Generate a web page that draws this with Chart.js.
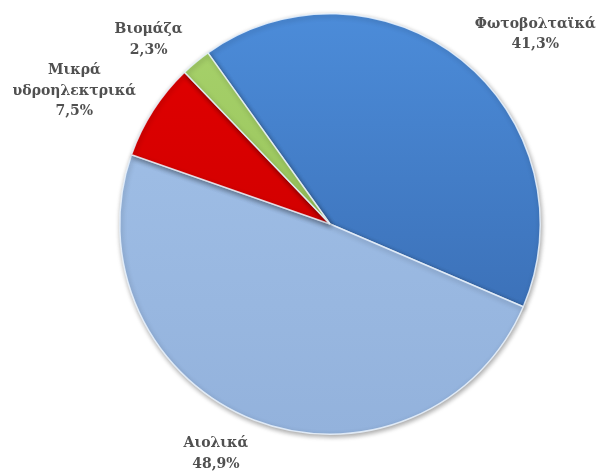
<!DOCTYPE html>
<html lang="el">
<head>
<meta charset="utf-8">
<script src="https://cdn.jsdelivr.net/npm/chart.js@4.4.1/dist/chart.umd.min.js"></script>
<style>
  html, body { margin: 0; padding: 0; background: #fff; }
  #wrap { width: 601px; height: 473px; }
</style>
</head>
<body>
<div id="wrap"><canvas id="pie" width="601" height="473"></canvas></div>
<script>
// ── Data ───────────────────────────────────────────────────────────────────
const CATEGORIES = ['Φωτοβολταϊκά', 'Αιολικά', 'Μικρά υδροηλεκτρικά', 'Βιομάζα'];
const SHARES     = [41.3, 48.9, 7.5, 2.3];

// ── Style ──────────────────────────────────────────────────────────────────
const GRADS = [
  ['#4c8cd9', '#3566ab'],
  ['#a3c2e9', '#93b2dc'],
  ['#e30000', '#c20000'],
  ['#a8d26c', '#8cba4e'],
];
// label placement relative to the slice: angular shift (deg) and radius factor
const LABEL_LAYOUT = [
  { shift: 8.4,  dist: 1.33 },
  { shift: 5.2,  dist: 1.22 },
  { shift: -5.3, dist: 1.37 },
  { shift: -4.9, dist: 1.23 },
];
const LABEL_FONT  = 'bold 14px "DejaVu Serif"';
const LABEL_COLOR = '#505050';
const LINE_H      = 20.5;

function fmt(v) { return v.toFixed(1).replace('.', ',') + '%'; }

function sliceFill(ctx) {
  const chart = ctx.chart;
  const area = chart.chartArea;
  if (!area) return GRADS[ctx.dataIndex][0];
  const g = chart.ctx.createLinearGradient(0, area.top, 0, area.bottom);
  g.addColorStop(0, GRADS[ctx.dataIndex][0]);
  g.addColorStop(1, GRADS[ctx.dataIndex][1]);
  return g;
}

const shadowPlugin = {
  id: 'shadow',
  beforeDatasetsDraw(chart) {
    const c = chart.ctx;
    c.save();
    c.shadowColor = 'rgba(0,0,0,0.35)';
    c.shadowBlur = 5;
    c.shadowOffsetX = 1;
    c.shadowOffsetY = 2;
  },
  afterDatasetsDraw(chart) { chart.ctx.restore(); }
};

const labelPlugin = {
  id: 'sliceLabels',
  afterDraw(chart) {
    const c = chart.ctx;
    const arcs = chart.getDatasetMeta(0).data;
    c.save();
    c.font = LABEL_FONT;
    c.fillStyle = LABEL_COLOR;
    c.textAlign = 'center';
    c.textBaseline = 'middle';
    arcs.forEach((arc, i) => {
      const p = arc.getProps(['x', 'y', 'startAngle', 'endAngle', 'outerRadius'], true);
      const lay = LABEL_LAYOUT[i];
      const a = (p.startAngle + p.endAngle) / 2 + lay.shift * Math.PI / 180;
      const cx = p.x + Math.cos(a) * p.outerRadius * lay.dist;
      const cy = p.y + Math.sin(a) * p.outerRadius * lay.dist;
      const lines = CATEGORIES[i].split(' ').concat([fmt(SHARES[i])]);
      const top = cy - (lines.length - 1) * LINE_H / 2;
      lines.forEach((ln, k) => c.fillText(ln, cx, top + k * LINE_H));
    });
    c.restore();
  }
};

// ── Chart ──────────────────────────────────────────────────────────────────
new Chart(document.getElementById('pie'), {
  type: 'pie',
  data: {
    labels: CATEGORIES,
    datasets: [{
      data: SHARES,
      backgroundColor: sliceFill,
      borderColor: 'rgba(235,245,255,0.85)',
      borderWidth: 1.5,
    }]
  },
  options: {
    responsive: false,
    animation: false,
    rotation: -35.5,
    layout: { padding: { top: 13, bottom: 38, left: 119, right: 60 } },
    plugins: {
      legend: { display: false },
      tooltip: { enabled: false }
    }
  },
  plugins: [shadowPlugin, labelPlugin]
});
</script>
</body>
</html>
